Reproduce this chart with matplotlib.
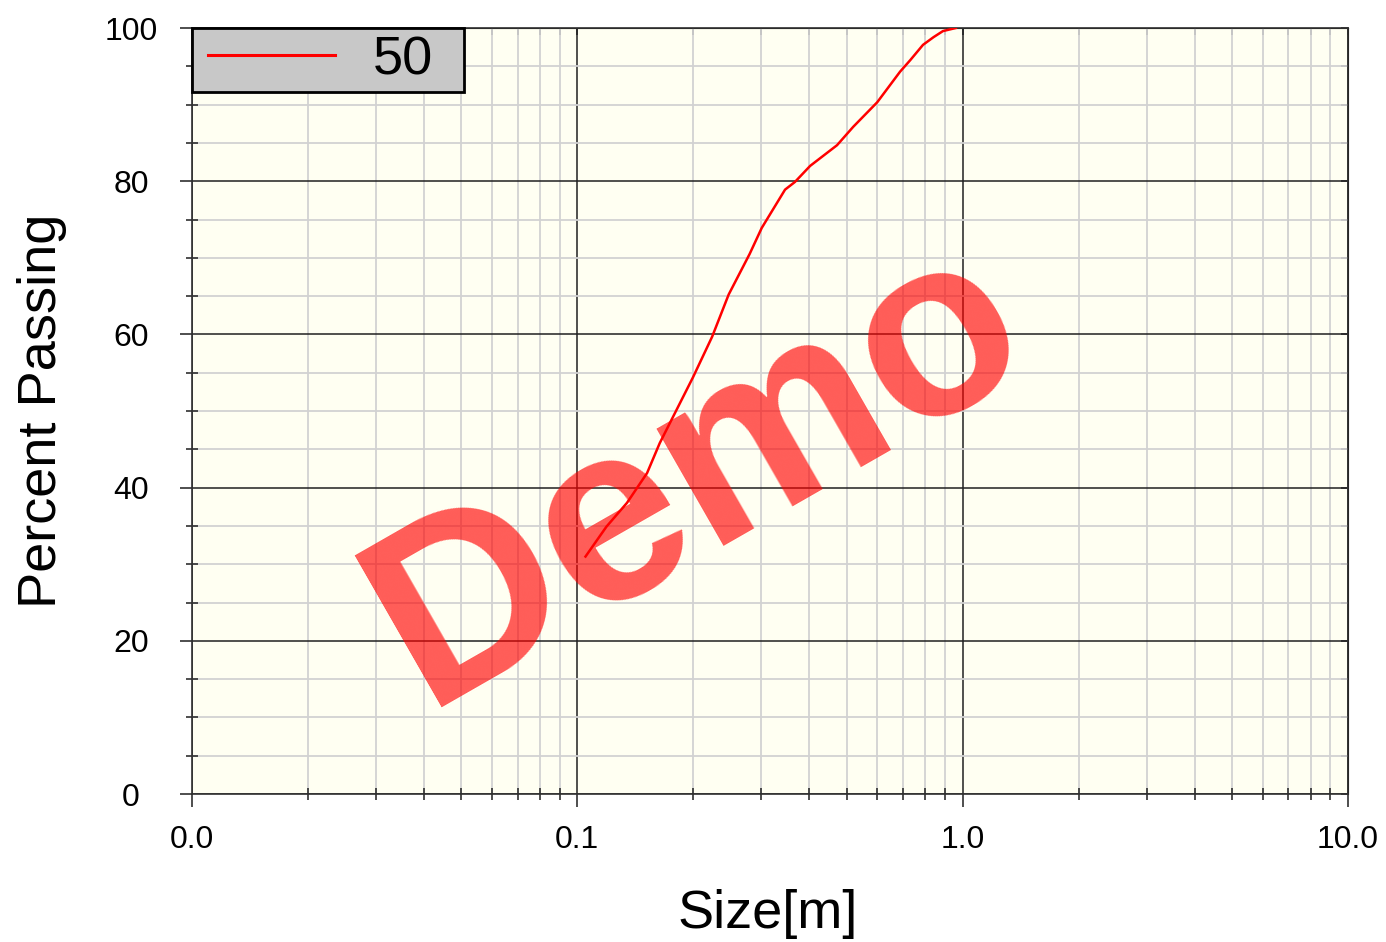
import matplotlib
matplotlib.use("Agg")
import matplotlib.pyplot as plt
from matplotlib.ticker import FixedLocator, NullFormatter
from matplotlib.legend_handler import HandlerLine2D
from matplotlib.lines import Line2D

plt.rcParams['font.family'] = ['Liberation Sans', 'DejaVu Sans']

# Cumulative size distribution (size in metres, percent passing)
size_m = [0.105, 0.119, 0.1345, 0.1517, 0.1636, 0.177, 0.1996, 0.2238, 0.247,
          0.280, 0.301, 0.346, 0.367, 0.402, 0.472, 0.520, 0.600, 0.688,
          0.731, 0.789, 0.840, 0.889, 0.96]
passing = [31.0, 34.9, 38.0, 41.9, 45.8, 49.2, 54.4, 59.7, 65.2,
           70.5, 73.9, 78.9, 79.9, 82.0, 84.7, 87.1, 90.3, 94.3,
           95.8, 97.8, 98.8, 99.6, 100.0]
series_label = "50"

x_major = [0.01, 0.1, 1.0, 10.0]
x_major_labels = ["0.0", "0.1", "1.0", "10.0"]
y_major = [0, 20, 40, 60, 80, 100]
y_major_labels = ["0", "20", "40", "60", "80", "100"]

W, H = 1386, 942
fig = plt.figure(figsize=(W / 100, H / 100), dpi=100)
fig.patch.set_facecolor("white")
ax = fig.add_axes([192 / W, 1 - 794 / H, 1156 / W, 766 / H])
ax.set_facecolor("#FFFFF2")

ax.set_xscale("log")
ax.set_xlim(0.01, 10)
ax.set_ylim(0, 100)

x_minor = [m * d for d in (0.01, 0.1, 1.0) for m in range(2, 10)]
y_minor = [v for v in range(5, 100, 5) if v % 20 != 0]

ax.xaxis.set_major_locator(FixedLocator(x_major))
ax.xaxis.set_minor_locator(FixedLocator(x_minor))
ax.xaxis.set_minor_formatter(NullFormatter())
ax.set_xticklabels(x_major_labels)
ax.yaxis.set_major_locator(FixedLocator(y_major))
ax.yaxis.set_minor_locator(FixedLocator(y_minor))
ax.set_yticklabels(y_major_labels)

ax.grid(which="major", color="#202020", linewidth=1.1, zorder=1)
ax.grid(which="minor", color="#D2D2D2", linewidth=1.3, zorder=0)
ax.set_axisbelow(True)

for s in ax.spines.values():
    s.set_color("#303030")
    s.set_linewidth(1.2)

ax.tick_params(which="major", direction="out", length=9, width=1.2,
               color="#303030", labelsize=23, labelcolor="black")
ax.tick_params(which="minor", direction="inout", length=9, width=1.2,
               color="#303030")
ax.tick_params(axis="x", which="major", pad=13)
ax.tick_params(axis="y", which="major", pad=35)
for lbl in ax.get_yticklabels():
    lbl.set_horizontalalignment("center")

# inward ticks along top and right edges
top = ax.secondary_xaxis("top")
top.xaxis.set_major_locator(FixedLocator(x_major))
top.xaxis.set_minor_locator(FixedLocator(x_minor))
top.tick_params(which="both", direction="in", length=5, width=1.2,
                color="#303030", labeltop=False)
top.xaxis.set_major_formatter(NullFormatter())
top.xaxis.set_minor_formatter(NullFormatter())
right = ax.secondary_yaxis("right")
right.yaxis.set_major_locator(FixedLocator(y_major))
right.yaxis.set_minor_locator(FixedLocator(y_minor))
right.tick_params(which="both", direction="in", length=5, width=1.2,
                  color="#303030", labelright=False)
right.yaxis.set_major_formatter(NullFormatter())

line, = ax.plot(size_m, passing, color="red", linewidth=1.8, zorder=3,
                label=series_label)

ax.set_xlabel("Size[m]", fontsize=39)
ax.xaxis.set_label_coords(0.498, -0.124)
ax.set_ylabel("Percent Passing", fontsize=39)
ax.yaxis.set_label_coords(-0.13, 0.5)
ax.yaxis.label.set_verticalalignment("center")

leg = ax.legend(loc="upper left", bbox_to_anchor=(0, 0.0, 0.235, 1.0),
                mode="expand", borderaxespad=0, fontsize=39,
                borderpad=0.13, handlelength=2.51, handletextpad=0.7,
                fancybox=False, framealpha=1,
                handler_map={Line2D: HandlerLine2D(xpad=0.165)})
for h in leg.legend_handles:
    h.set_linewidth(2.2)
frame = leg.get_frame()
frame.set_facecolor("#C8C8C8")
frame.set_edgecolor("black")
frame.set_linewidth(2.0)
leg.set_zorder(5)

fig.text(0.5036, 0.4964, "Demo", fontsize=183, fontweight="bold",
         color="red", alpha=0.64, rotation=29.8, rotation_mode="anchor",
         ha="center", va="center", zorder=10)

fig.savefig("out.png", dpi=100)
